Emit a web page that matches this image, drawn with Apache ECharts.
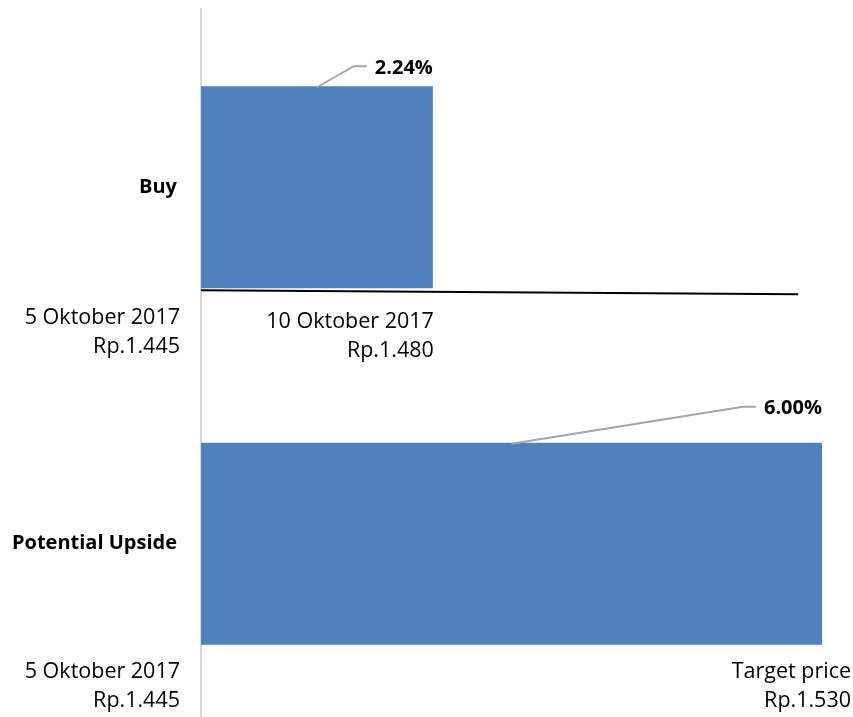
<!DOCTYPE html>
<html>
<head>
<meta charset="utf-8">
<script src="https://cdn.jsdelivr.net/npm/echarts@6/dist/echarts.min.js"></script>
<style>
  html, body { margin: 0; padding: 0; background: #fff; }
  #chart { width: 853px; height: 717px; }
</style>
</head>
<body>
<div id="chart"></div>
<script>
const categories = ["Buy", "Potential Upside"];
const upside = [2.24, 6.0];
const startNotes = ["5 Oktober 2017\nRp.1.445", "5 Oktober 2017\nRp.1.445"];
const endNotes = ["10 Oktober 2017\nRp.1.480", "Target price\nRp.1.530"];

// per-row tweaks for annotation placement
const labelRise = [18, 34];
const startNoteDrop = [30, 27];
const endNoteDrop = [34, 27];
const endNoteShift = [1, 29];
const dividerEnd = 5.77;

const FONT = '"Open Sans", "Liberation Sans", sans-serif';
const BAR_W = 202;
const LINE_H = 29;

const measure = (function() {
  const ctx = document.createElement("canvas").getContext("2d");
  return function(text, font) {
    ctx.font = font;
    return ctx.measureText(text).width;
  };
})();

const chart = echarts.init(document.getElementById("chart"), null, { renderer: "canvas" });

function renderNotes(params, api) {
  const i = params.dataIndex;
  const v = api.value(0);
  const start = api.coord([0, i]);
  const end = api.coord([v, i]);
  const mid = api.coord([v / 2, i]);
  const top = end[1] - BAR_W / 2;
  const bottom = end[1] + BAR_W / 2;

  const labelText = v.toFixed(2) + "%";
  const labelFont = "bold 20px " + FONT;
  const labelY = top - labelRise[i];
  const hEnd = end[0] - measure(labelText, labelFont) - 8;

  const children = [
    {
      type: "polyline",
      shape: { points: [[mid[0], top + 1], [hEnd - 13, labelY - 2], [hEnd, labelY - 2]] },
      style: { stroke: "#a6a6a6", lineWidth: 2, fill: null }
    },
    {
      type: "text",
      style: {
        text: labelText, x: end[0], y: labelY,
        align: "right", verticalAlign: "middle",
        font: labelFont, fill: "#000"
      }
    },
    {
      type: "text",
      style: {
        text: startNotes[i], x: start[0] - 21, y: bottom + startNoteDrop[i] - LINE_H / 2,
        align: "right", verticalAlign: "top", lineHeight: LINE_H,
        font: "21.5px " + FONT, fill: "#000"
      }
    },
    {
      type: "text",
      style: {
        text: endNotes[i], x: end[0] + endNoteShift[i], y: bottom + endNoteDrop[i] - LINE_H / 2,
        align: "right", verticalAlign: "top", lineHeight: LINE_H,
        font: "21.5px " + FONT, fill: "#000"
      }
    }
  ];

  if (i === 0) {
    const dEnd = api.coord([dividerEnd, i]);
    children.push({
      type: "line",
      shape: { x1: start[0], y1: bottom + 2, x2: dEnd[0], y2: bottom + 6 },
      style: { stroke: "#000", lineWidth: 2 }
    });
  }

  return { type: "group", children: children };
}

const option = {
  animation: false,
  backgroundColor: "#fff",
  grid: { left: 201, width: 621, top: 9, height: 713, outerBoundsMode: "none" },
  xAxis: { type: "value", min: 0, max: 6, show: false },
  yAxis: {
    type: "category",
    inverse: true,
    data: categories,
    axisLine: { show: true, lineStyle: { color: "#d9d9d9", width: 2 } },
    axisTick: { show: false },
    axisLabel: {
      margin: 24,
      fontFamily: FONT,
      fontWeight: "bold",
      fontSize: 20,
      color: "#000"
    },
    splitLine: { show: false }
  },
  series: [
    {
      type: "bar",
      data: upside,
      barWidth: BAR_W,
      itemStyle: { color: "#4f81bd" }
    },
    {
      type: "custom",
      z: 3,
      clip: false,
      data: upside.map((v, i) => [v, i]),
      encode: { x: 0, y: 1 },
      renderItem: renderNotes
    }
  ]
};

chart.setOption(option);
</script>
</body>
</html>
